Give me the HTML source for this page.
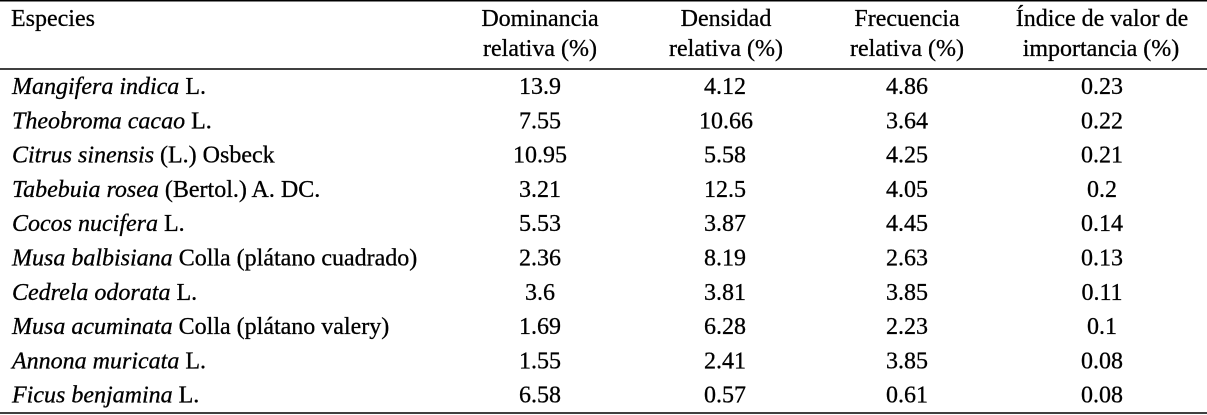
<!DOCTYPE html>
<html>
<head>
<meta charset="utf-8">
<style>
html,body{margin:0;padding:0;background:#fff;font-family:"Liberation Serif","Times New Roman",serif;}
svg{display:block;}
svg text{font-family:"Liberation Serif","Times New Roman",serif;font-size:24px;fill:#000;stroke:#000;stroke-width:0.3px;}
.i{font-style:italic;}
.c{text-anchor:middle;}
</style>
</head>
<body>
<svg width="1207" height="415" viewBox="0 0 1207 415" xmlns="http://www.w3.org/2000/svg" font-family="Liberation Serif, Times New Roman, serif" font-size="24">
<rect x="0" y="0" width="1207" height="415" fill="#fff"/>
<line x1="0" y1="0.75" x2="1207" y2="0.75" stroke="#000" stroke-width="1.5"/>
<line x1="0" y1="69" x2="1207" y2="69" stroke="#000" stroke-width="1.5"/>
<line x1="0" y1="413" x2="1207" y2="413" stroke="#000" stroke-width="1.5"/>
<g font-family="Liberation Serif, Times New Roman, serif">
<text x="11" y="26">Especies</text>
<text class="c" x="540" y="26">Dominancia</text>
<text class="c" x="540" y="56">relativa (%)</text>
<text class="c" x="726" y="26">Densidad</text>
<text class="c" x="726" y="56">relativa (%)</text>
<text class="c" x="907" y="26">Frecuencia</text>
<text class="c" x="907" y="56">relativa (%)</text>
<text class="c" x="1102" y="26">Índice de valor de</text>
<text class="c" x="1101" y="56">importancia (%)</text>

<text x="12" y="94"><tspan class="i" font-style="italic">Mangifera indica</tspan> L.</text>
<text class="c" x="540" y="94">13.9</text><text class="c" x="725" y="94">4.12</text><text class="c" x="907" y="94">4.86</text><text class="c" x="1102" y="94">0.23</text>

<text x="12" y="128.3"><tspan class="i" font-style="italic">Theobroma cacao</tspan> L.</text>
<text class="c" x="540" y="128.3">7.55</text><text class="c" x="726" y="128.3">10.66</text><text class="c" x="907" y="128.3">3.64</text><text class="c" x="1102" y="128.3">0.22</text>

<text x="12" y="162.6"><tspan class="i" font-style="italic">Citrus sinensis</tspan> (L.) Osbeck</text>
<text class="c" x="540" y="162.6">10.95</text><text class="c" x="725" y="162.6">5.58</text><text class="c" x="907" y="162.6">4.25</text><text class="c" x="1102" y="162.6">0.21</text>

<text x="12" y="196.9"><tspan class="i" font-style="italic">Tabebuia rosea</tspan> (Bertol.) A. DC.</text>
<text class="c" x="540" y="196.9">3.21</text><text class="c" x="725" y="196.9">12.5</text><text class="c" x="907" y="196.9">4.05</text><text class="c" x="1102" y="196.9">0.2</text>

<text x="12" y="231.2"><tspan class="i" font-style="italic">Cocos nucifera</tspan> L.</text>
<text class="c" x="540" y="231.2">5.53</text><text class="c" x="725" y="231.2">3.87</text><text class="c" x="907" y="231.2">4.45</text><text class="c" x="1102" y="231.2">0.14</text>

<text x="12" y="265.5"><tspan class="i" font-style="italic">Musa balbisiana</tspan> Colla (plátano cuadrado)</text>
<text class="c" x="540" y="265.5">2.36</text><text class="c" x="725" y="265.5">8.19</text><text class="c" x="907" y="265.5">2.63</text><text class="c" x="1102" y="265.5">0.13</text>

<text x="12" y="299.8"><tspan class="i" font-style="italic">Cedrela odorata</tspan> L.</text>
<text class="c" x="540" y="299.8">3.6</text><text class="c" x="725" y="299.8">3.81</text><text class="c" x="907" y="299.8">3.85</text><text class="c" x="1102" y="299.8">0.11</text>

<text x="12" y="334.1"><tspan class="i" font-style="italic">Musa acuminata</tspan> Colla (plátano valery)</text>
<text class="c" x="540" y="334.1">1.69</text><text class="c" x="725" y="334.1">6.28</text><text class="c" x="907" y="334.1">2.23</text><text class="c" x="1102" y="334.1">0.1</text>

<text x="12" y="368.4"><tspan class="i" font-style="italic">Annona muricata</tspan> L.</text>
<text class="c" x="540" y="368.4">1.55</text><text class="c" x="725" y="368.4">2.41</text><text class="c" x="907" y="368.4">3.85</text><text class="c" x="1102" y="368.4">0.08</text>

<text x="12" y="402.7"><tspan class="i" font-style="italic">Ficus benjamina</tspan> L.</text>
<text class="c" x="540" y="402.7">6.58</text><text class="c" x="725" y="402.7">0.57</text><text class="c" x="907" y="402.7">0.61</text><text class="c" x="1102" y="402.7">0.08</text>
</g>
</svg>
</body>
</html>
